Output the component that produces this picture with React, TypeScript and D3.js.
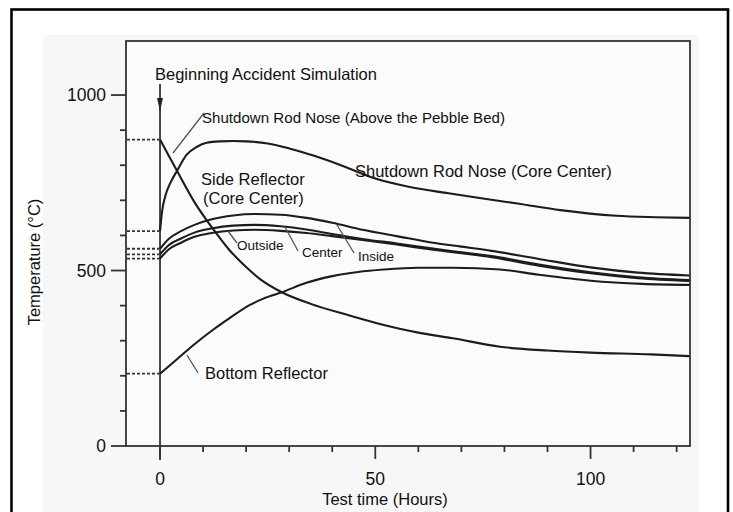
import React from 'react';
import * as d3 from 'd3';

// Test time (hours) / temperature (°C) samples
const aboveT = [0, 2, 4, 8, 12.4, 16, 20, 23.4, 28.3, 35, 44, 52, 60, 68, 79, 90, 100, 114, 123];
const aboveV = [873, 828, 783, 695, 617, 560, 510, 474, 438, 405, 372, 345, 323, 307, 283, 272, 266, 261, 256];

const coreT = [0, 0.5, 1.2, 2.5, 3.9, 6.2, 8.5, 10.8, 14, 17, 20, 25, 30, 36, 42, 50, 58, 67, 75, 83, 93, 106, 115, 123];
const coreV = [612, 670, 711, 752, 783, 830, 852, 864, 868, 869, 868, 862, 848, 826, 800, 762, 738, 720, 705, 691, 672, 656, 652, 650];

const sideT = [0, 2, 5, 8, 12, 17, 22, 28, 34, 40, 47, 55, 63, 70, 77, 88, 100, 111, 123];
const sideOutsideV = [562, 590, 613, 630, 646, 657, 661, 659, 650, 636, 616, 598, 580, 568, 556, 533, 509, 494, 486];
const sideCenterV = [546, 572, 592, 608, 620, 628, 630, 626, 617, 604, 590, 577, 563, 552, 541, 517, 495, 481, 473];
const sideInsideV = [534, 560, 580, 596, 607, 614, 616, 613, 607, 598, 587, 574, 560, 549, 538, 514, 492, 478, 470];

const bottomT = [0, 4, 8, 12.4, 16, 20.9, 24, 28.3, 34, 40, 46, 52, 60, 68, 79, 88, 100, 112, 123];
const bottomV = [206, 248, 290, 332, 363, 402, 420, 438, 465, 484, 496, 503, 508, 508, 503, 488, 471, 462, 459];

const startLevels = [873, 612, 562, 546, 534, 206];

const yMajor = [0, 500, 1000];
const yMinor = [100, 200, 300, 400, 600, 700, 800, 900];
const xMajor = [0, 50, 100];
const xMinor = [10, 20, 30, 40, 60, 70, 80, 90, 110, 120];

const xTitle = 'Test time (Hours)';
const yTitle = 'Temperature (°C)';
const lblBegin = 'Beginning Accident Simulation';
const lblAbove = 'Shutdown Rod Nose (Above the Pebble Bed)';
const lblCore = 'Shutdown Rod Nose (Core Center)';
const lblSide1 = 'Side Reflector';
const lblSide2 = '(Core Center)';
const lblOutside = 'Outside';
const lblCenter = 'Center';
const lblInside = 'Inside';
const lblBottom = 'Bottom Reflector';

const FONT = '"Liberation Sans", Arial, Helvetica, sans-serif';

export default function App() {
  const x = d3.scaleLinear().domain([-7.9, 123.1]).range([126, 690]);
  const y = d3.scaleLinear().domain([0, 1154]).range([446, 41]);

  const mk = (ts: number[], vs: number[]) =>
    d3
      .line<number>()
      .x((_, i) => x(ts[i]))
      .y((v) => y(v))
      .curve(d3.curveMonotoneX)(vs) || '';

  const series = [
    mk(aboveT, aboveV),
    mk(coreT, coreV),
    mk(sideT, sideOutsideV),
    mk(sideT, sideCenterV),
    mk(sideT, sideInsideV),
    mk(bottomT, bottomV),
  ];

  const left = x.range()[0];
  const right = x.range()[1];
  const top = y.range()[1];
  const bottom = y.range()[0];
  const x0 = x(0);
  const ink = '#1c1c1c';

  return (
    <svg
      width={733}
      height={512}
      style={{ position: 'absolute', left: 0, top: 0, background: '#fff' }}
      fontFamily={FONT}
    >
      <rect x={0} y={0} width={733} height={512} fill="#fff" />
      <rect x={43} y={35} width={656} height={480} fill="#f7f7f7" />
      <rect x={left} y={top} width={right - left} height={bottom - top} fill="#fbfbfb" />
      {/* outer frame */}
      <rect x={11.5} y={9.5} width={716.5} height={520} fill="none" stroke="#000" strokeWidth={2.6} />

      {/* plot frame */}
      <rect x={left} y={top} width={right - left} height={bottom - top} fill="none" stroke="#333" strokeWidth={1.8} />

      {/* y ticks */}
      {yMajor.map((v) => (
        <g key={'ym' + v}>
          <line x1={left - 15} x2={left} y1={y(v)} y2={y(v)} stroke="#333" strokeWidth={1.8} />
          <text x={106} y={y(v) + 6} textAnchor="end" fontSize={17.5} fill="#111">
            {v}
          </text>
        </g>
      ))}
      {yMinor.map((v) => (
        <line key={'yn' + v} x1={left - 6} x2={left} y1={y(v)} y2={y(v)} stroke="#333" strokeWidth={1.8} />
      ))}

      {/* x ticks */}
      {xMajor.map((v) => (
        <g key={'xm' + v}>
          <line x1={x(v)} x2={x(v)} y1={bottom} y2={bottom + 13} stroke="#333" strokeWidth={1.8} />
          <text x={x(v)} y={485} textAnchor="middle" fontSize={17.5} fill="#111">
            {v}
          </text>
        </g>
      ))}
      {xMinor.map((v) => (
        <line key={'xn' + v} x1={x(v)} x2={x(v)} y1={bottom} y2={bottom + 6} stroke="#333" strokeWidth={1.8} />
      ))}

      {/* start-value dotted guides */}
      {startLevels.map((v, i) => (
        <line
          key={'d' + i}
          x1={left + 1}
          x2={x0 - 1}
          y1={y(v)}
          y2={y(v)}
          stroke="#333"
          strokeWidth={1.8}
          strokeDasharray="3,2"
        />
      ))}

      {/* accident start vertical line and arrow */}
      <line x1={x0} x2={x0} y1={84} y2={bottom + 14} stroke="#333" strokeWidth={1.8} />
      <polygon points={`${x0 - 3},${98} ${x0 + 3},${98} ${x0},${111}`} fill="#222" />

      {/* curves */}
      {series.map((d, i) => (
        <path key={'s' + i} d={d} fill="none" stroke={ink} strokeWidth={2.1} />
      ))}

      {/* leader lines */}
      <g stroke="#555" strokeWidth={1.3}>
        <line x1={204} y1={113} x2={173} y2={153} />
        <line x1={228} y1={231} x2={237} y2={243} />
        <line x1={285} y1={227} x2={298} y2={251} />
        <line x1={337} y1={225} x2={354} y2={253} />
        <line x1={187} y1={355} x2={198} y2={373} />
      </g>

      {/* labels */}
      <g fill="#111" fontSize={16.5}>
        <text x={155} y={80}>{lblBegin}</text>
        <text x={202} y={123} fontSize={15.5} textLength={303} lengthAdjust="spacingAndGlyphs">{lblAbove}</text>
        <text x={355} y={177}>{lblCore}</text>
        <text x={201} y={185}>{lblSide1}</text>
        <text x={203} y={204}>{lblSide2}</text>
        <text x={205} y={379}>{lblBottom}</text>
      </g>
      <g fill="#111" fontSize={13.5}>
        <text x={237} y={250}>{lblOutside}</text>
        <text x={302} y={257}>{lblCenter}</text>
        <text x={358} y={261}>{lblInside}</text>
      </g>

      {/* axis titles */}
      <text x={385} y={505} textAnchor="middle" fontSize={16.5} fill="#111">
        {xTitle}
      </text>
      <text
        transform={`translate(40,${262}) rotate(-90)`}
        textAnchor="middle"
        fontSize={16.5}
        fill="#111"
      >
        {yTitle}
      </text>
    </svg>
  );
}
